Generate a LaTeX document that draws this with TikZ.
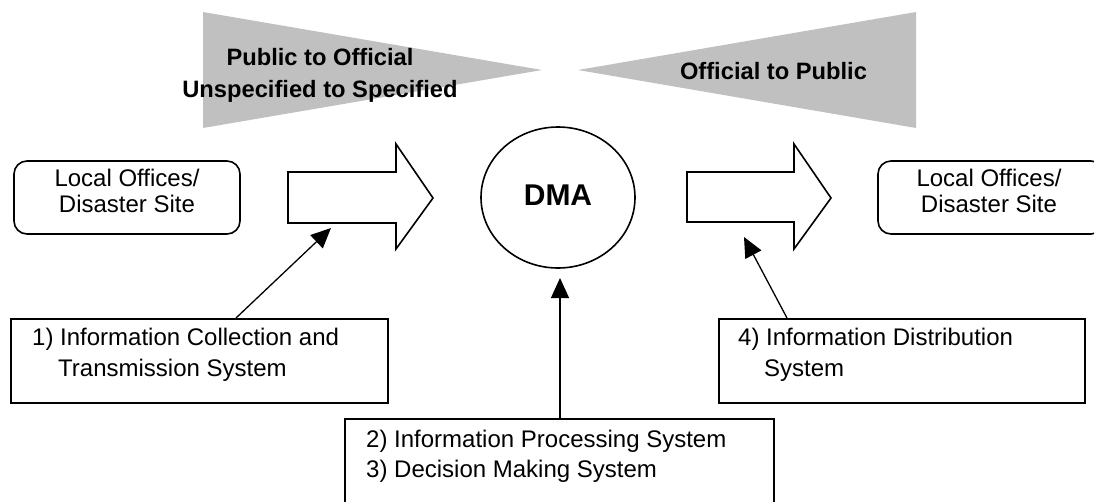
\documentclass[tikz,border=0pt]{standalone}
\usepackage{fontspec}
\setmainfont{Liberation Sans}
\usetikzlibrary{arrows.meta,shapes.geometric}
\definecolor{triGray}{HTML}{C0C0C0}
\begin{document}
\begin{tikzpicture}[x=1pt,y=-1pt,
  tri/.style={fill=triGray, draw=none},
  rbox/.style={draw, line width=1.6pt, rounded corners=13pt, minimum width=226pt, minimum height=73pt, inner sep=0pt},
  sbox/.style={draw, line width=1.6pt, inner sep=0pt},
  blk/.style={draw, line width=1.6pt, fill=white, line join=miter},
  conn/.style={line width=1.3pt, -{Triangle[length=20pt,width=18pt]}},
  lbl/.style={font=\fontsize{24}{26}\selectfont, inner sep=0pt},
  hd/.style={font=\fontsize{23.7}{26}\selectfont\bfseries, inner sep=0pt}]
\useasboundingbox (0,0) rectangle (1094,501);
\clip (0,0) rectangle (1094,501);

% grey funnels
\fill[tri] (203,12) -- (542,70) -- (203,128) -- cycle;
\fill[tri] (916,12) -- (578,70) -- (916,128) -- cycle;
\node[hd, anchor=base] (h1) at (320,65) {Public to Official};
\node[hd, anchor=base] (h2) at (320,97) {Unspecified to Specified};
\node[hd, anchor=base] (h3) at (773.5,79) {Official to Public};

% local offices boxes
\node[rbox] (lo1) at (127,197.5) {};
\node[lbl, anchor=base] (lo1a) at (127,186) {Local Offices/};
\node[lbl, anchor=base] (lo1b) at (127,212) {Disaster Site};
\node[rbox] (lo2) at (991,197.5) {};
\node[lbl, anchor=base] (lo2a) at (989,186) {Local Offices/};
\node[lbl, anchor=base] (lo2b) at (989,212) {Disaster Site};

% block arrows
\draw[blk] (288,172) -- (396,172) -- (396,144) -- (433,198) -- (396,249) -- (396,223) -- (288,223) -- cycle;
\draw[blk] (687,172) -- (794,172) -- (794,144) -- (831,198) -- (794,249) -- (794,222) -- (687,222) -- cycle;

% DMA
\node[draw, ellipse, line width=1.6pt, minimum width=154pt, minimum height=141pt, inner sep=0pt] (dma) at (558,197.5) {};
\node[font=\fontsize{30}{32}\selectfont\bfseries, inner sep=0pt, anchor=base] (dmat) at (558,205) {DMA};

% system boxes
\node[sbox, minimum width=377pt, minimum height=84pt, anchor=north west] (b1) at (10,318) {};
\node[lbl, anchor=base west] (b1a) at (32,345) {1) Information Collection and};
\node[lbl, anchor=base west] (b1b) at (58,376) {Transmission System};
\node[sbox, minimum width=429pt, minimum height=120pt, anchor=north west] (b2) at (344,418) {};
\node[lbl, anchor=base west] (b2a) at (366,447) {2) Information Processing System};
\node[lbl, anchor=base west] (b2b) at (366,477) {3) Decision Making System};
\node[sbox, minimum width=366pt, minimum height=84pt, anchor=north west] (b4) at (718,318) {};
\node[lbl, anchor=base west] (b4a) at (738,345) {4) Information Distribution};
\node[lbl, anchor=base west] (b4b) at (764,376) {System};

% connectors
\coordinate (s1) at (236,318); \coordinate (t1) at (331,228);
\coordinate (s2) at (560,418); \coordinate (t2) at (560,278);
\coordinate (s4) at (787,318); \coordinate (t4) at (744,237);
\draw[conn] (s1) -- (t1);
\draw[conn] (s2) -- (t2);
\draw[conn] (s4) -- (t4);
\end{tikzpicture}
\end{document}
